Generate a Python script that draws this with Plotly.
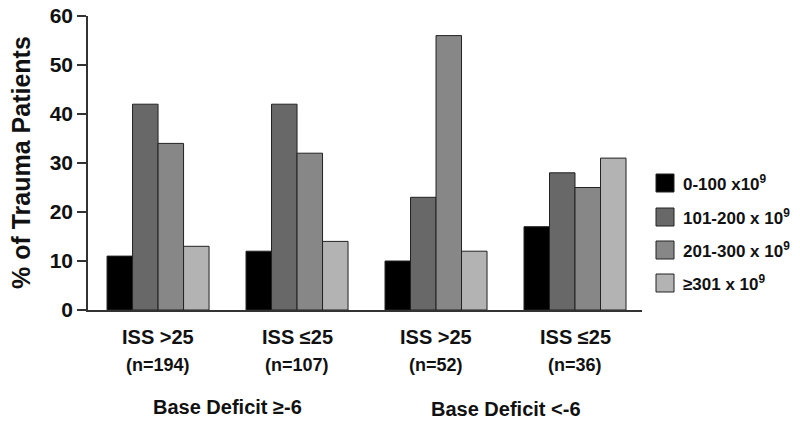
import plotly.graph_objects as go

groups = ["ISS >25", "ISS ≤25", "ISS >25 ", "ISS ≤25 "]
group_labels = ["ISS >25", "ISS ≤25", "ISS >25", "ISS ≤25"]
n_labels = ["(n=194)", "(n=107)", "(n=52)", "(n=36)"]
deficit_labels = ["Base Deficit ≥-6", "Base Deficit <-6"]
series_names = ["0-100 x10<sup>9</sup>", "101-200 x 10<sup>9</sup>",
                "201-300 x 10<sup>9</sup>", "≥301 x 10<sup>9</sup>"]
values = [
    [11, 12, 10, 17],
    [42, 42, 23, 28],
    [34, 32, 56, 25],
    [13, 14, 12, 31],
]
colors = ["#000000", "#686868", "#878787", "#b3b3b3"]
y_ticks = [0, 10, 20, 30, 40, 50, 60]

FONT = "Arial, Liberation Sans, Helvetica, sans-serif"

fig = go.Figure()
for name, vals, col in zip(series_names, values, colors):
    fig.add_trace(go.Bar(
        x=list(range(len(groups))), y=vals, name=name,
        marker=dict(color=col, line=dict(color="#222222", width=1)),
        showlegend=False, cliponaxis=False, hoverinfo="skip",
    ))

W, H = 800, 423
PL, PR, PT, PB = 88, 642, 16, 310           # plot box in pixels
pw, ph = PR - PL, PB - PT


def px(xr):
    return (xr - PL) / pw


def py(yr):
    return (PB - yr) / ph


fig.update_layout(
    width=W, height=H,
    margin=dict(l=PL, r=W - PR, t=PT, b=H - PB, pad=0),
    paper_bgcolor="white", plot_bgcolor="white",
    barmode="group", bargap=0.266, bargroupgap=0,
    font=dict(family=FONT, color="#111111"),
    xaxis=dict(
        range=[-0.504, 3.482], showticklabels=False, ticks="",
        showline=True, linecolor="#333333", linewidth=1.5,
        showgrid=False, zeroline=False, automargin=False,
    ),
    yaxis=dict(
        range=[0, 60], tickvals=y_ticks,
        ticktext=[f"<b>{v}</b>" for v in y_ticks],
        ticks="outside", ticklen=9, tickwidth=1.5, tickcolor="#333333",
        tickfont=dict(size=21, family=FONT, color="#111111"),
        ticklabeloverflow="allow",
        showline=True, linecolor="#333333", linewidth=1.5,
        showgrid=False, zeroline=False, automargin=False,
    ),
)

ann = []
ann.append(dict(text="<b>% of Trauma Patients</b>", textangle=-90,
                xref="paper", yref="paper", x=px(21), y=py(163),
                xanchor="center", yanchor="middle", showarrow=False,
                font=dict(size=25, family=FONT, color="#111111")))
for i, (g, n) in enumerate(zip(group_labels, n_labels)):
    ann.append(dict(text=f"<b>{g}</b>", xref="x", yref="paper", x=i,
                    y=py(337), xanchor="center", yanchor="middle",
                    showarrow=False, font=dict(size=20, family=FONT, color="#111111")))
    ann.append(dict(text=f"<b>{n}</b>", xref="x", yref="paper", x=i,
                    y=py(365), xanchor="center", yanchor="middle",
                    showarrow=False, font=dict(size=18, family=FONT, color="#111111")))
for j, d in enumerate(deficit_labels):
    ann.append(dict(text=f"<b>{d}</b>", xref="x", yref="paper", x=2 * j + 0.5,
                    y=py(407 + 2 * j), xanchor="center", yanchor="middle",
                    showarrow=False, font=dict(size=20, family=FONT, color="#111111")))

shapes = []
leg_y = [183, 217, 250, 283]
for name, col, ly in zip(series_names, colors, leg_y):
    shapes.append(dict(type="rect", xref="paper", yref="paper",
                       x0=px(656), x1=px(674), y0=py(ly - 9), y1=py(ly + 9),
                       fillcolor=col, line=dict(color="#222222", width=1)))
    ann.append(dict(text=f"<b>{name}</b>", xref="paper", yref="paper",
                    x=px(681), y=py(ly), xanchor="left", yanchor="middle",
                    showarrow=False, font=dict(size=17, family=FONT, color="#111111")))

fig.update_layout(annotations=ann, shapes=shapes)
fig.write_html("out.html",
               config={"displayModeBar": False},
               post_script="document.body.style.margin='0';"
                           "document.body.style.overflow='hidden';")
